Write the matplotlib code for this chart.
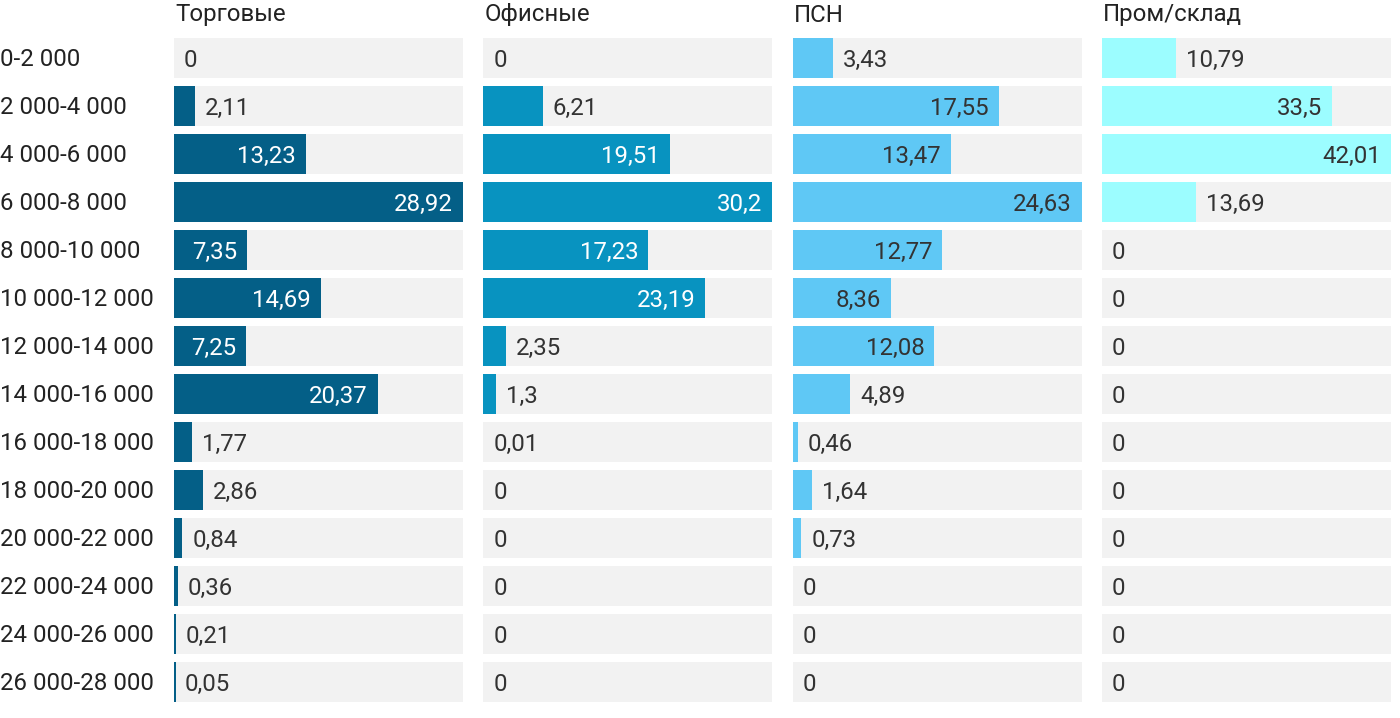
import numpy as np
import matplotlib.pyplot as plt

plt.rcParams['font.family'] = ['Roboto', 'DejaVu Sans']

# Ranges (row labels)
ranges = ["0-2 000", "2 000-4 000", "4 000-6 000", "6 000-8 000", "8 000-10 000",
          "10 000-12 000", "12 000-14 000", "14 000-16 000", "16 000-18 000",
          "18 000-20 000", "20 000-22 000", "22 000-24 000", "24 000-26 000",
          "26 000-28 000"]

titles = ["Торговые", "Офисные", "ПСН", "Пром/склад"]

torg = [0, 2.11, 13.23, 28.92, 7.35, 14.69, 7.25, 20.37, 1.77, 2.86, 0.84, 0.36, 0.21, 0.05]
ofis = [0, 6.21, 19.51, 30.2, 17.23, 23.19, 2.35, 1.3, 0.01, 0, 0, 0, 0, 0]
psn = [3.43, 17.55, 13.47, 24.63, 12.77, 8.36, 12.08, 4.89, 0.46, 1.64, 0.73, 0, 0, 0]
prom = [10.79, 33.5, 42.01, 13.69, 0, 0, 0, 0, 0, 0, 0, 0, 0, 0]

series = [torg, ofis, psn, prom]
colors = ["#045f87", "#0893c0", "#5fc8f5", "#9cfdff"]
inside_color = ["white", "white", "#333333", "#333333"]
inside_min = [0.2, 0.3, 0.3, 0.5]   # share of max needed to put the label in the bar

W, H = 1400, 718
FS = 17.3
fig = plt.figure(figsize=(W / 100, H / 100), dpi=100)

top_px, pitch = 34, 48
n = len(ranges)
ax_h = n * pitch

def fmt(v):
    s = ("%.2f" % v).rstrip("0").rstrip(".")
    return s.replace(".", ",")

for row, lab in enumerate(ranges):
    fig.text(0 / W, 1 - (top_px + pitch * row + 26) / H, lab, fontsize=FS,
             color="#222222", ha="left", va="center")

for i, (vals, title) in enumerate(zip(series, titles)):
    left = 174 + i * 309.33
    width = 289
    ax = fig.add_axes([left / W, 1 - (top_px + ax_h) / H, width / W, ax_h / H])
    vmax = max(vals)
    y = np.arange(n)
    ax.barh(y, [vmax] * n, height=40 / 48, color="#f2f2f2", left=0)
    shown = [max(v, vmax * 0.007) if v >= 0.05 else v for v in vals]
    ax.barh(y, shown, height=40 / 48, color=colors[i])
    ax.set_xlim(0, vmax)
    ax.set_ylim(n - 0.5, -0.5)
    ax.axis("off")
    pad = vmax * 10 / width
    ty = y + 2 / 48
    for yy, v in zip(ty, vals):
        if v > 0 and v / vmax >= inside_min[i]:
            ax.text(v - pad, yy, fmt(v), ha="right", va="center", fontsize=FS,
                    color=inside_color[i])
        else:
            ax.text(v + pad, yy, fmt(v), ha="left", va="center", fontsize=FS,
                    color="#333333")
    fig.text((left + 1) / W, 1 - 15 / H, title, fontsize=FS, color="#222222",
             ha="left", va="center")

fig.savefig("out.png", dpi=100, facecolor="white")
